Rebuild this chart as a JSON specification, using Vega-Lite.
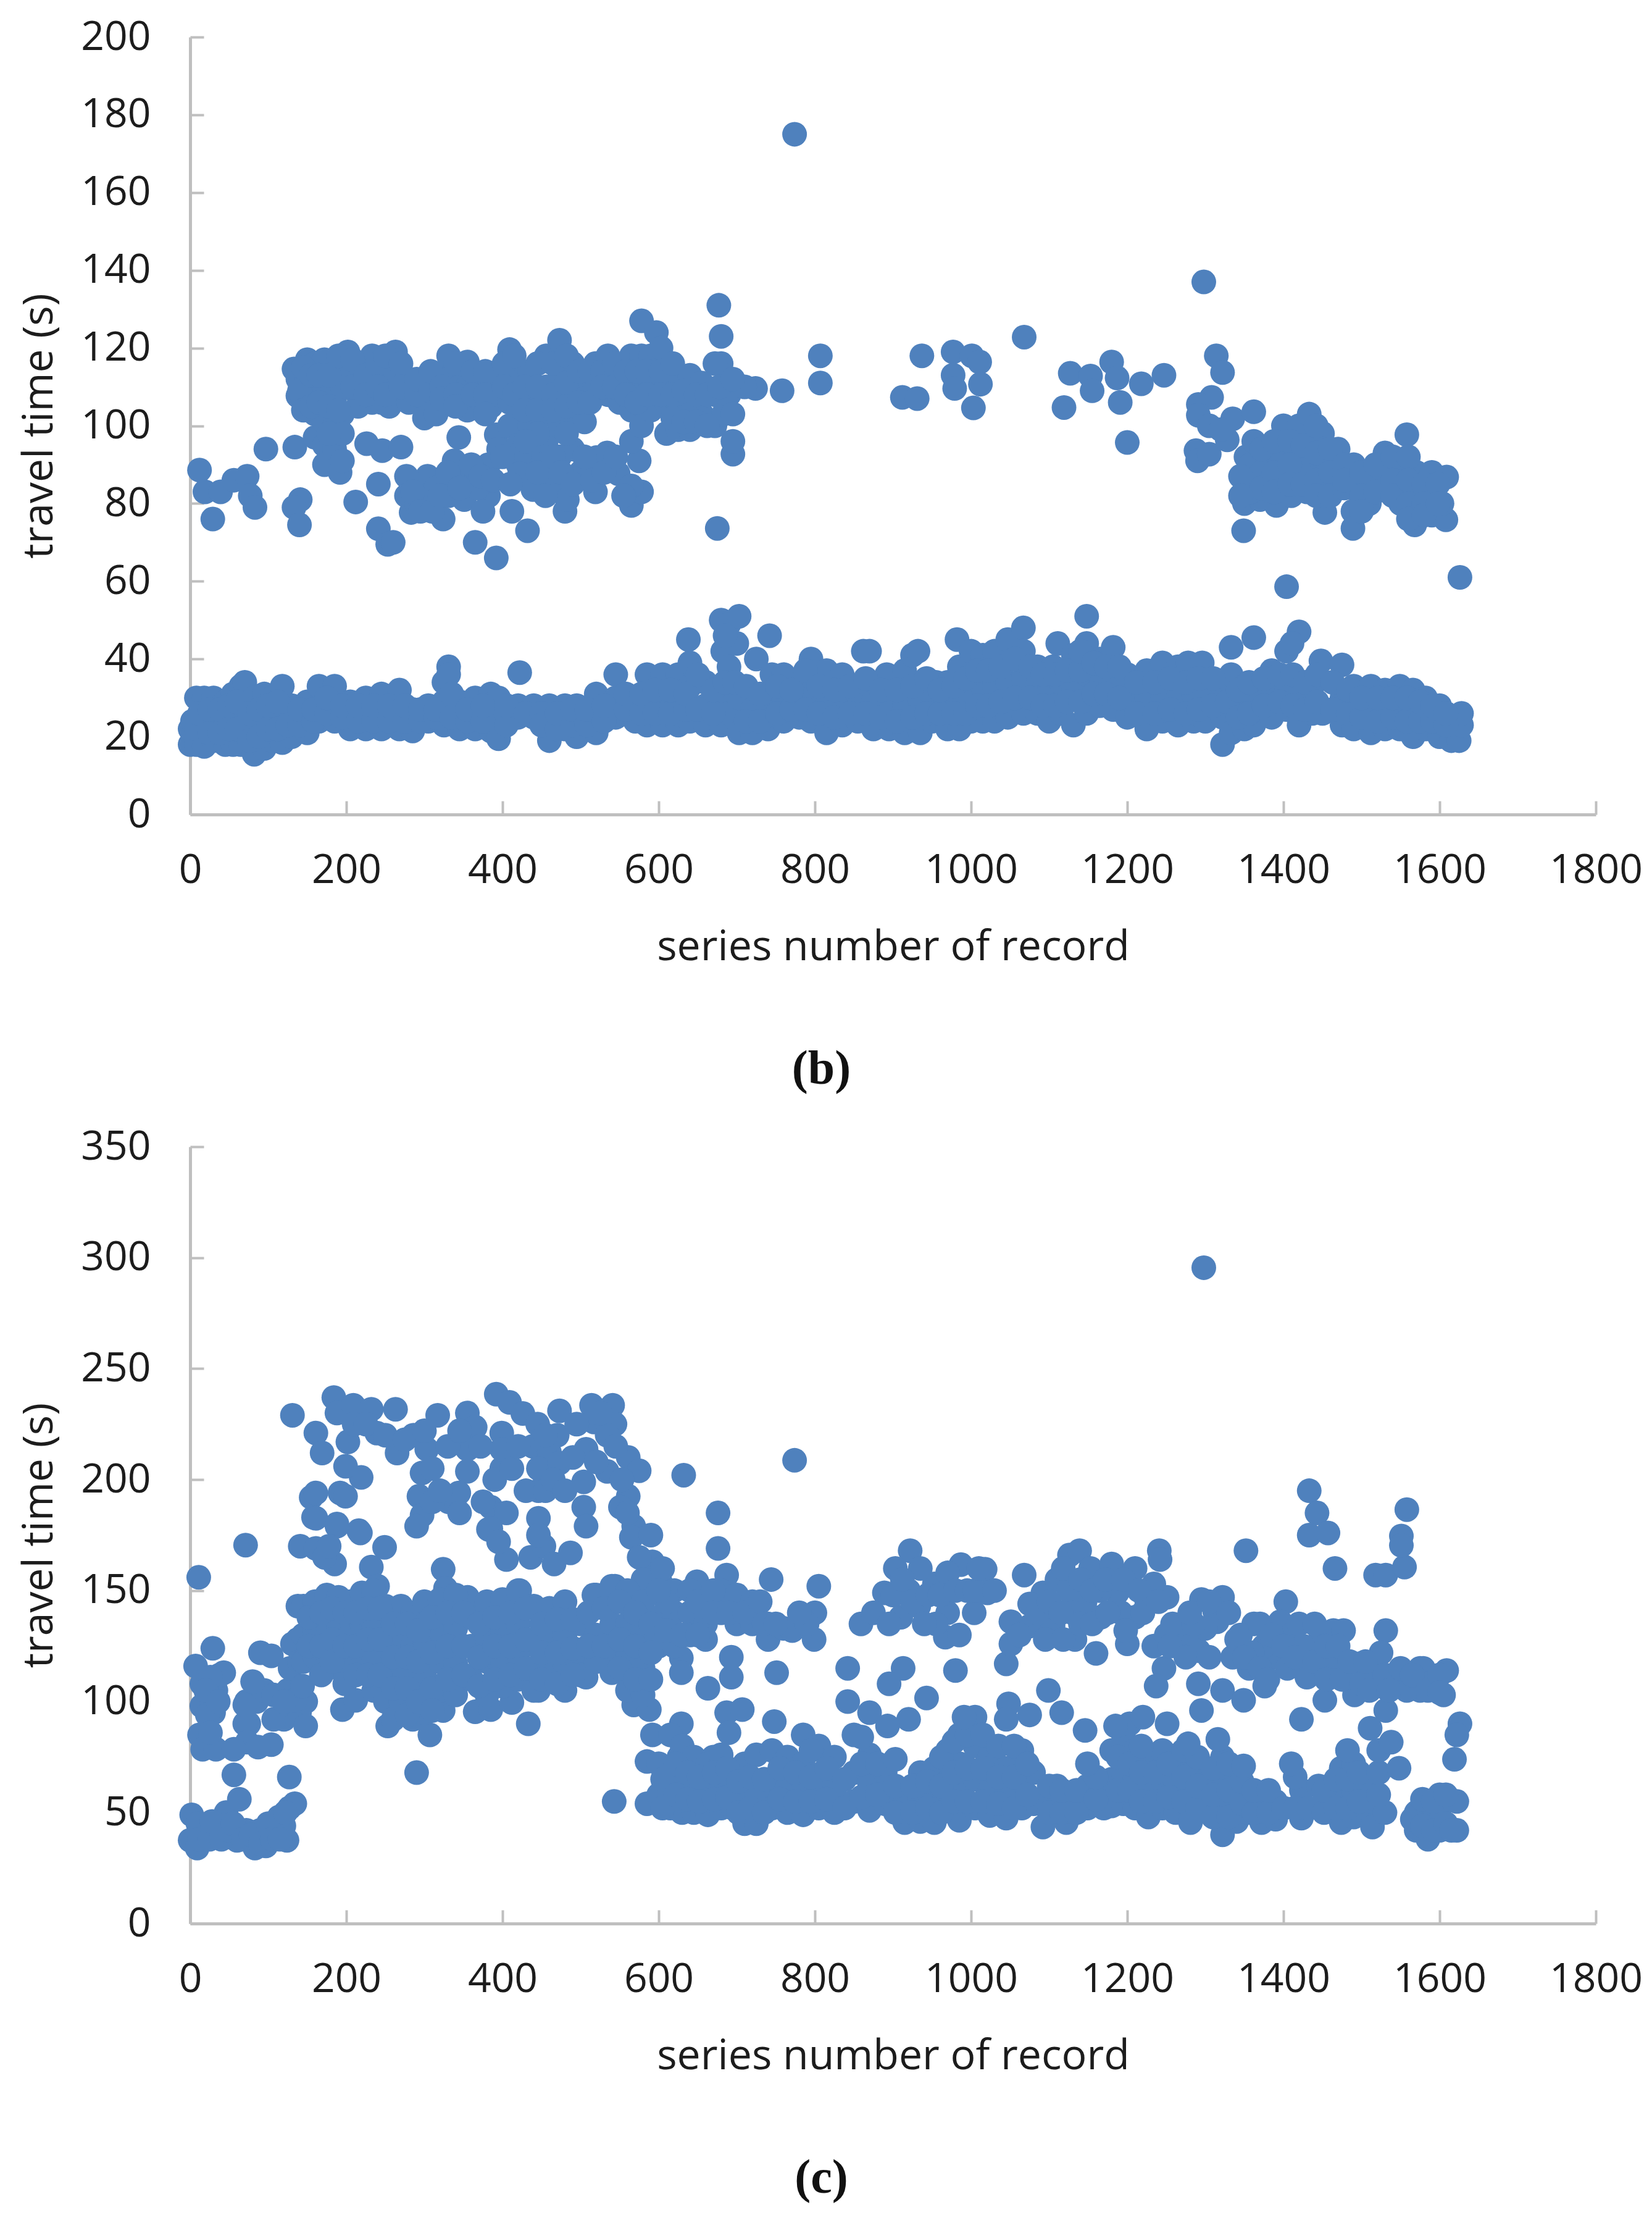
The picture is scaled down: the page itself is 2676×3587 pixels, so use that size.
{"$schema":"https://vega.github.io/schema/vega-lite/v6.json","background":"white","padding":{"left":30,"top":27,"right":0,"bottom":20},"spacing":53,
"config":{"view":{"stroke":null},"axis":{"grid":false,"domainColor":"#BFBFBF","domainWidth":5,"tickColor":"#BFBFBF","tickWidth":4,"tickSize":-22,"labelFont":"Open Sans","titleFont":"Open Sans","labelFontSize":66,"titleFontSize":68,"labelColor":"#1c1c1c","titleColor":"#1c1c1c","titleFontWeight":"normal","labelOverlap":false,"labelFlush":false},"title":{"font":"Liberation Serif","fontSize":78,"fontWeight":"bold","color":"#111111","orient":"bottom","anchor":"middle","dx":-116,"offset":125}},
"datasets":{
"b":[{"x":774,"y":175},{"x":1298,"y":137},{"x":1404,"y":58.6},{"x":1626,"y":61},
{"x":0,"y":18},{"x":0,"y":22},{"x":3,"y":24},{"x":8,"y":18},{"x":8,"y":22},{"x":8,"y":30},{"x":18,"y":17.5},{"x":18,"y":24},{"x":18,"y":30},{"x":30,"y":19},{"x":30,"y":25},{"x":30,"y":30},{"x":45,"y":18},{"x":45,"y":24},{"x":45,"y":29},{"x":55,"y":18},{"x":55,"y":25},{"x":55,"y":31},{"x":65,"y":18},{"x":65,"y":26},{"x":65,"y":33},{"x":70,"y":21},{"x":70,"y":29},{"x":70,"y":34},{"x":82,"y":15.5},{"x":82,"y":23},{"x":82,"y":30},{"x":95,"y":17},{"x":95,"y":24},{"x":95,"y":31},{"x":105,"y":19},{"x":105,"y":26},{"x":105,"y":30},{"x":118,"y":18.5},{"x":118,"y":25},{"x":118,"y":33},{"x":130,"y":20},{"x":130,"y":25},{"x":130,"y":28},{"x":150,"y":21},{"x":150,"y":26},{"x":150,"y":29},{"x":165,"y":24},{"x":165,"y":28},{"x":165,"y":33},{"x":185,"y":24},{"x":185,"y":28},{"x":185,"y":33},{"x":205,"y":22},{"x":205,"y":26},{"x":205,"y":29},{"x":225,"y":22},{"x":225,"y":26},{"x":225,"y":30},{"x":245,"y":22},{"x":245,"y":26},{"x":245,"y":31},{"x":268,"y":22},{"x":268,"y":26},{"x":268,"y":32},{"x":285,"y":21.5},{"x":285,"y":25},{"x":285,"y":27},{"x":305,"y":24},{"x":305,"y":26},{"x":305,"y":28},{"x":325,"y":23},{"x":325,"y":29},{"x":325,"y":34},{"x":331,"y":38},{"x":331,"y":36},{"x":345,"y":22},{"x":345,"y":26},{"x":345,"y":29},{"x":365,"y":22},{"x":365,"y":25},{"x":365,"y":30},{"x":385,"y":21.5},{"x":385,"y":26},{"x":385,"y":31},{"x":395,"y":19.5},{"x":395,"y":25},{"x":395,"y":30},{"x":420,"y":25},{"x":420,"y":28},{"x":422,"y":36.5},{"x":440,"y":25},{"x":440,"y":28},{"x":460,"y":19},{"x":460,"y":24},{"x":460,"y":28},{"x":480,"y":22},{"x":480,"y":25},{"x":480,"y":28},{"x":495,"y":20},{"x":495,"y":25},{"x":495,"y":28},{"x":520,"y":21},{"x":520,"y":26},{"x":520,"y":31},{"x":545,"y":25},{"x":545,"y":30},{"x":545,"y":36},{"x":570,"y":24},{"x":570,"y":28},{"x":585,"y":23},{"x":585,"y":28},{"x":585,"y":36},{"x":605,"y":23},{"x":605,"y":29},{"x":605,"y":36},{"x":625,"y":23},{"x":625,"y":28},{"x":625,"y":36},{"x":640,"y":24},{"x":640,"y":33},{"x":640,"y":39},{"x":638,"y":45},{"x":660,"y":23},{"x":660,"y":28},{"x":660,"y":34},{"x":680,"y":23},{"x":680,"y":30},{"x":682,"y":42},{"x":680,"y":50},{"x":690,"y":26},{"x":690,"y":38},{"x":690,"y":49},{"x":703,"y":21},{"x":703,"y":30},{"x":703,"y":51},{"x":700,"y":44},{"x":720,"y":21},{"x":720,"y":27},{"x":725,"y":40},{"x":740,"y":22},{"x":740,"y":28},{"x":745,"y":36},{"x":742,"y":46},{"x":760,"y":24},{"x":760,"y":30},{"x":760,"y":36},{"x":780,"y":25},{"x":780,"y":29},{"x":780,"y":34},{"x":795,"y":24},{"x":795,"y":30},{"x":795,"y":40},{"x":815,"y":21},{"x":815,"y":28},{"x":815,"y":37},{"x":835,"y":23},{"x":835,"y":28},{"x":835,"y":36},{"x":855,"y":24},{"x":855,"y":31},{"x":862,"y":42},{"x":875,"y":22},{"x":875,"y":29},{"x":870,"y":42},{"x":895,"y":22},{"x":895,"y":29},{"x":892,"y":36},{"x":915,"y":21},{"x":915,"y":28},{"x":915,"y":37},{"x":925,"y":41},{"x":935,"y":21},{"x":935,"y":29},{"x":932,"y":42},{"x":950,"y":24},{"x":950,"y":31},{"x":955,"y":34},{"x":970,"y":22},{"x":970,"y":29},{"x":970,"y":34},{"x":985,"y":22},{"x":985,"y":30},{"x":982,"y":45},{"x":985,"y":38},{"x":1000,"y":24},{"x":1000,"y":32},{"x":1000,"y":42},{"x":1015,"y":24},{"x":1015,"y":33},{"x":1015,"y":41},{"x":1030,"y":24},{"x":1030,"y":33},{"x":1030,"y":42},{"x":1047,"y":25},{"x":1047,"y":34},{"x":1047,"y":45},{"x":1067,"y":26},{"x":1067,"y":35},{"x":1067,"y":48},{"x":1067,"y":42},{"x":1085,"y":26},{"x":1085,"y":33},{"x":1085,"y":38},{"x":1100,"y":24},{"x":1100,"y":32},{"x":1105,"y":38},{"x":1111,"y":44},{"x":1115,"y":26},{"x":1115,"y":34},{"x":1131,"y":23},{"x":1131,"y":33},{"x":1131,"y":41},{"x":1148,"y":26},{"x":1148,"y":36},{"x":1148,"y":44},{"x":1148,"y":51},{"x":1165,"y":28},{"x":1165,"y":36},{"x":1165,"y":40},{"x":1182,"y":27},{"x":1182,"y":34},{"x":1182,"y":43},{"x":1200,"y":25},{"x":1200,"y":31},{"x":1200,"y":36},{"x":1225,"y":22},{"x":1225,"y":30},{"x":1225,"y":37},{"x":1245,"y":24},{"x":1245,"y":31},{"x":1245,"y":39},{"x":1265,"y":23},{"x":1265,"y":30},{"x":1265,"y":38},{"x":1278,"y":39},{"x":1285,"y":24},{"x":1285,"y":31},{"x":1296,"y":39},{"x":1300,"y":24},{"x":1300,"y":31},{"x":1322,"y":18},{"x":1322,"y":25},{"x":1322,"y":33},{"x":1333,"y":21},{"x":1333,"y":28},{"x":1333,"y":36},{"x":1333,"y":43},{"x":1350,"y":22},{"x":1350,"y":28},{"x":1350,"y":33},{"x":1362,"y":23},{"x":1362,"y":30},{"x":1362,"y":45.5},{"x":1385,"y":25},{"x":1385,"y":33},{"x":1385,"y":37},{"x":1404,"y":27},{"x":1404,"y":33},{"x":1404,"y":42},{"x":1420,"y":23},{"x":1420,"y":30},{"x":1420,"y":47},{"x":1411,"y":44},{"x":1437,"y":26},{"x":1437,"y":33},{"x":1448,"y":39.5},{"x":1450,"y":26},{"x":1475,"y":23},{"x":1475,"y":30},{"x":1475,"y":38.5},{"x":1490,"y":22},{"x":1490,"y":28},{"x":1490,"y":33},{"x":1512,"y":21},{"x":1512,"y":27},{"x":1512,"y":33},{"x":1530,"y":22},{"x":1530,"y":27},{"x":1530,"y":32},{"x":1549,"y":22},{"x":1549,"y":27},{"x":1549,"y":33},{"x":1566,"y":20},{"x":1566,"y":26},{"x":1566,"y":32},{"x":1582,"y":22},{"x":1582,"y":27},{"x":1582,"y":30},{"x":1600,"y":20},{"x":1600,"y":24},{"x":1600,"y":28},{"x":1615,"y":19},{"x":1615,"y":22},{"x":1625,"y":19},{"x":1628,"y":23},{"x":1628,"y":26},
{"x":12,"y":26},{"x":25,"y":21},{"x":25,"y":27},{"x":38,"y":21},{"x":38,"y":27},{"x":50,"y":22},{"x":50,"y":28},{"x":60,"y":22},{"x":60,"y":29},{"x":76,"y":19},{"x":76,"y":26},{"x":88,"y":20},{"x":88,"y":27},{"x":100,"y":22},{"x":100,"y":28},{"x":112,"y":22},{"x":112,"y":29},{"x":125,"y":23},{"x":140,"y":23},{"x":140,"y":27},{"x":158,"y":24},{"x":158,"y":27},{"x":175,"y":26},{"x":175,"y":30},{"x":195,"y":25},{"x":195,"y":28},{"x":215,"y":24},{"x":215,"y":28},{"x":235,"y":24},{"x":235,"y":28},{"x":255,"y":24},{"x":255,"y":28},{"x":275,"y":24},{"x":275,"y":28},{"x":295,"y":24},{"x":295,"y":27},{"x":315,"y":25},{"x":315,"y":27},{"x":335,"y":25},{"x":335,"y":31},{"x":355,"y":24},{"x":355,"y":27},{"x":375,"y":24},{"x":375,"y":28},{"x":405,"y":23},{"x":405,"y":28},{"x":430,"y":26},{"x":450,"y":26},{"x":450,"y":23},{"x":470,"y":22},{"x":470,"y":26},{"x":490,"y":23},{"x":490,"y":27},{"x":508,"y":23},{"x":508,"y":27},{"x":530,"y":24},{"x":530,"y":28},{"x":558,"y":27},{"x":558,"y":31},{"x":578,"y":26},{"x":578,"y":31},{"x":595,"y":26},{"x":595,"y":32},{"x":615,"y":26},{"x":615,"y":32},{"x":635,"y":27},{"x":635,"y":31},{"x":650,"y":27},{"x":650,"y":36},{"x":670,"y":26},{"x":670,"y":32},{"x":685,"y":34},{"x":685,"y":46},{"x":697,"y":34},{"x":712,"y":24},{"x":712,"y":33},{"x":730,"y":24},{"x":730,"y":31},{"x":752,"y":26},{"x":752,"y":33},{"x":770,"y":27},{"x":770,"y":32},{"x":788,"y":27},{"x":788,"y":37},{"x":805,"y":26},{"x":805,"y":33},{"x":825,"y":25},{"x":825,"y":32},{"x":845,"y":26},{"x":845,"y":33},{"x":865,"y":26},{"x":865,"y":35},{"x":885,"y":25},{"x":885,"y":32},{"x":905,"y":24},{"x":905,"y":32},{"x":925,"y":25},{"x":925,"y":33},{"x":943,"y":26},{"x":943,"y":35},{"x":960,"y":26},{"x":960,"y":32},{"x":978,"y":26},{"x":978,"y":33},{"x":993,"y":26},{"x":993,"y":35},{"x":1008,"y":28},{"x":1008,"y":37},{"x":1022,"y":28},{"x":1022,"y":37},{"x":1038,"y":29},{"x":1038,"y":38},{"x":1056,"y":30},{"x":1056,"y":40},{"x":1076,"y":30},{"x":1076,"y":38},{"x":1092,"y":28},{"x":1092,"y":36},{"x":1108,"y":28},{"x":1108,"y":36},{"x":1123,"y":29},{"x":1123,"y":37},{"x":1140,"y":29},{"x":1140,"y":37},{"x":1140,"y":42},{"x":1157,"y":31},{"x":1157,"y":39},{"x":1173,"y":31},{"x":1173,"y":38},{"x":1190,"y":30},{"x":1190,"y":38},{"x":1212,"y":26},{"x":1212,"y":34},{"x":1235,"y":26},{"x":1235,"y":34},{"x":1255,"y":27},{"x":1255,"y":35},{"x":1275,"y":26},{"x":1275,"y":34},{"x":1292,"y":27},{"x":1292,"y":35},{"x":1310,"y":28},{"x":1310,"y":35},{"x":1328,"y":29},{"x":1342,"y":25},{"x":1342,"y":32},{"x":1356,"y":26},{"x":1356,"y":34},{"x":1375,"y":28},{"x":1375,"y":35},{"x":1395,"y":29},{"x":1395,"y":36},{"x":1412,"y":28},{"x":1412,"y":36},{"x":1428,"y":27},{"x":1428,"y":34},{"x":1443,"y":29},{"x":1443,"y":36},{"x":1463,"y":27},{"x":1463,"y":34},{"x":1483,"y":26},{"x":1483,"y":32},{"x":1500,"y":25},{"x":1500,"y":30},{"x":1521,"y":24},{"x":1521,"y":30},{"x":1540,"y":25},{"x":1540,"y":30},{"x":1558,"y":24},{"x":1558,"y":30},{"x":1575,"y":24},{"x":1575,"y":29},{"x":1591,"y":24},{"x":1591,"y":28},{"x":1608,"y":23},{"x":1608,"y":26},
{"x":12,"y":88.6},{"x":19,"y":83},{"x":39,"y":83},{"x":29,"y":76},{"x":56,"y":86},{"x":73,"y":87},{"x":77,"y":82},{"x":83,"y":79},{"x":97,"y":94},{"x":134,"y":94.5},{"x":141,"y":81},{"x":133,"y":79},{"x":140,"y":74.5},{"x":212,"y":80.4},{"x":241,"y":85},{"x":241,"y":73.5},{"x":253,"y":69.5},{"x":260,"y":70},{"x":365,"y":70},{"x":392,"y":66},{"x":432,"y":73},{"x":412,"y":78},{"x":480,"y":78},{"x":519,"y":83},{"x":565,"y":79.5},{"x":578,"y":83},{"x":575,"y":91},{"x":675,"y":73.6},{"x":695,"y":92.7},{"x":695,"y":96},{"x":677,"y":131},{"x":680,"y":123},{"x":680,"y":116},{"x":724,"y":109.6},{"x":758,"y":109},{"x":807,"y":118},{"x":807,"y":111},
{"x":133,"y":114.6},{"x":138,"y":107.7},{"x":138,"y":112},{"x":150,"y":112},{"x":150,"y":117},{"x":150,"y":107},{"x":160,"y":116},{"x":160,"y":110},{"x":160,"y":103},{"x":160,"y":97},{"x":172,"y":117},{"x":172,"y":110},{"x":172,"y":101},{"x":172,"y":95},{"x":172,"y":90},{"x":185,"y":113},{"x":185,"y":107},{"x":185,"y":100},{"x":185,"y":94},{"x":192,"y":88},{"x":195,"y":116},{"x":195,"y":110},{"x":195,"y":103},{"x":195,"y":98},{"x":195,"y":91},{"x":202,"y":119},{"x":202,"y":113},{"x":215,"y":116},{"x":215,"y":108},{"x":215,"y":105},{"x":233,"y":118},{"x":233,"y":112},{"x":233,"y":106},{"x":245,"y":114},{"x":245,"y":106},{"x":255,"y":116},{"x":255,"y":110},{"x":255,"y":105},{"x":263,"y":119},{"x":263,"y":114},{"x":280,"y":110},{"x":280,"y":106},{"x":300,"y":112},{"x":300,"y":107},{"x":300,"y":102},{"x":315,"y":113},{"x":315,"y":103},{"x":331,"y":118},{"x":331,"y":112},{"x":331,"y":106},{"x":345,"y":112},{"x":345,"y":110},{"x":355,"y":116.4},{"x":355,"y":110},{"x":355,"y":104},{"x":370,"y":112},{"x":370,"y":107},{"x":385,"y":110},{"x":385,"y":105},{"x":395,"y":114},{"x":395,"y":108},{"x":392,"y":97.7},{"x":395,"y":94},{"x":409,"y":119.6},{"x":409,"y":112},{"x":409,"y":106},{"x":409,"y":100},{"x":420,"y":113},{"x":420,"y":105},{"x":420,"y":95},{"x":420,"y":90},{"x":435,"y":114},{"x":435,"y":107},{"x":435,"y":100},{"x":435,"y":92},{"x":435,"y":86},{"x":456,"y":118},{"x":456,"y":110},{"x":456,"y":103},{"x":456,"y":96},{"x":473,"y":122},{"x":473,"y":114},{"x":473,"y":107},{"x":473,"y":100},{"x":473,"y":92},{"x":473,"y":85},{"x":490,"y":116},{"x":490,"y":108},{"x":490,"y":102},{"x":490,"y":94},{"x":505,"y":112},{"x":505,"y":107},{"x":505,"y":101},{"x":519,"y":116},{"x":519,"y":110},{"x":535,"y":118},{"x":535,"y":112},{"x":535,"y":108},{"x":550,"y":112},{"x":550,"y":106},{"x":565,"y":118},{"x":565,"y":110},{"x":565,"y":104},{"x":565,"y":96},{"x":578,"y":127},{"x":578,"y":118},{"x":578,"y":110},{"x":578,"y":100},{"x":590,"y":118},{"x":590,"y":110},{"x":590,"y":104},{"x":597,"y":124},{"x":597,"y":116},{"x":610,"y":112},{"x":610,"y":106},{"x":610,"y":98},{"x":625,"y":113},{"x":625,"y":105},{"x":625,"y":99},{"x":640,"y":113},{"x":640,"y":103},{"x":640,"y":99},{"x":655,"y":111},{"x":655,"y":103},{"x":672,"y":116},{"x":672,"y":108},{"x":672,"y":100},{"x":683,"y":103},{"x":690,"y":108},{"x":710,"y":110},
{"x":140,"y":109},{"x":145,"y":115},{"x":145,"y":104},{"x":155,"y":105},{"x":155,"y":113},{"x":165,"y":113},{"x":165,"y":106},{"x":178,"y":113},{"x":178,"y":105},{"x":178,"y":98},{"x":190,"y":118},{"x":190,"y":104},{"x":208,"y":110},{"x":208,"y":117},{"x":225,"y":113},{"x":225,"y":108},{"x":240,"y":116},{"x":240,"y":110},{"x":250,"y":118},{"x":250,"y":108},{"x":270,"y":116},{"x":270,"y":110},{"x":290,"y":108},{"x":290,"y":112},{"x":308,"y":109},{"x":308,"y":114},{"x":322,"y":110},{"x":322,"y":107},{"x":340,"y":116},{"x":340,"y":108},{"x":340,"y":105},{"x":362,"y":114},{"x":362,"y":108},{"x":378,"y":114},{"x":378,"y":108},{"x":378,"y":103},{"x":402,"y":116},{"x":402,"y":110},{"x":415,"y":118},{"x":415,"y":108},{"x":428,"y":110},{"x":428,"y":104},{"x":445,"y":116},{"x":445,"y":110},{"x":445,"y":104},{"x":445,"y":98},{"x":465,"y":116},{"x":465,"y":108},{"x":465,"y":104},{"x":482,"y":118},{"x":482,"y":111},{"x":482,"y":105},{"x":482,"y":98},{"x":498,"y":114},{"x":498,"y":106},{"x":512,"y":114},{"x":512,"y":106},{"x":528,"y":114},{"x":528,"y":110},{"x":543,"y":116},{"x":543,"y":110},{"x":558,"y":114},{"x":558,"y":108},{"x":572,"y":114},{"x":572,"y":106},{"x":585,"y":114},{"x":585,"y":108},{"x":603,"y":120},{"x":603,"y":114},{"x":603,"y":108},{"x":618,"y":116},{"x":618,"y":108},{"x":618,"y":102},{"x":632,"y":109},{"x":632,"y":101},{"x":648,"y":108},{"x":648,"y":101},{"x":662,"y":108},{"x":662,"y":100},{"x":678,"y":110},{"x":695,"y":103},{"x":695,"y":112},
{"x":226,"y":95.4},{"x":246,"y":93.6},{"x":270,"y":94.5},{"x":304,"y":87},{"x":277,"y":87},{"x":277,"y":82},{"x":283,"y":77.7},{"x":304,"y":82},{"x":324,"y":76},{"x":338,"y":91},{"x":351,"y":87},{"x":351,"y":81},{"x":382,"y":90},{"x":382,"y":82},{"x":331,"y":82},{"x":344,"y":97},{"x":422,"y":92.7},{"x":422,"y":87.7},{"x":439,"y":83.6},{"x":466,"y":85.4},{"x":483,"y":81},{"x":500,"y":88},{"x":520,"y":91.8},{"x":534,"y":93},{"x":548,"y":87.7},{"x":565,"y":84.5},{"x":290,"y":80},{"x":315,"y":84},{"x":368,"y":84},{"x":450,"y":90},
{"x":285,"y":83},{"x":295,"y":78},{"x":310,"y":78},{"x":320,"y":82},{"x":330,"y":88},{"x":345,"y":84},{"x":360,"y":90},{"x":372,"y":87},{"x":375,"y":78},{"x":388,"y":86},{"x":400,"y":92},{"x":410,"y":85},{"x":430,"y":96},{"x":445,"y":88},{"x":455,"y":82},{"x":465,"y":92},{"x":475,"y":88},{"x":490,"y":85},{"x":505,"y":92},{"x":515,"y":86},{"x":530,"y":88},{"x":545,"y":92},{"x":555,"y":82},
{"x":937,"y":118},{"x":977,"y":119},{"x":1001,"y":118},{"x":1011,"y":116.4},{"x":977,"y":113},{"x":979,"y":109.6},{"x":1012,"y":110.7},{"x":1003,"y":104.6},{"x":912,"y":107.3},{"x":931,"y":107},{"x":1068,"y":122.8},{"x":1127,"y":113.5},{"x":1153,"y":112.8},{"x":1180,"y":116.4},{"x":1187,"y":112.3},{"x":1155,"y":109},{"x":1218,"y":110.8},{"x":1247,"y":113},{"x":1119,"y":104.7},{"x":1191,"y":106},{"x":1200,"y":95.7},{"x":1314,"y":118},{"x":1322,"y":113.7},{"x":1308,"y":107.3},{"x":1291,"y":105.5},{"x":1291,"y":102.7},{"x":1288,"y":93.6},{"x":1290,"y":91},{"x":1305,"y":92.7},{"x":1328,"y":96.4},{"x":1335,"y":101.8},{"x":1362,"y":103.6},{"x":1349,"y":73},{"x":1305,"y":100},{"x":1320,"y":99},
{"x":1350,"y":80},{"x":1350,"y":86},{"x":1352,"y":92},{"x":1362,"y":96},{"x":1365,"y":88},{"x":1370,"y":81},{"x":1380,"y":92},{"x":1382,"y":85},{"x":1391,"y":79.5},{"x":1400,"y":100},{"x":1399,"y":93},{"x":1400,"y":86},{"x":1410,"y":82},{"x":1420,"y":100},{"x":1418,"y":92},{"x":1420,"y":86},{"x":1433,"y":103},{"x":1433,"y":96},{"x":1430,"y":89},{"x":1430,"y":83},{"x":1450,"y":98},{"x":1450,"y":90},{"x":1453,"y":84},{"x":1453,"y":77.7},{"x":1470,"y":94},{"x":1470,"y":88},{"x":1470,"y":84},{"x":1490,"y":90},{"x":1490,"y":84},{"x":1489,"y":78},{"x":1489,"y":73.6},{"x":1510,"y":85},{"x":1510,"y":80},{"x":1530,"y":93},{"x":1530,"y":87},{"x":1530,"y":84},{"x":1550,"y":90},{"x":1550,"y":85},{"x":1550,"y":80},{"x":1558,"y":97.7},{"x":1570,"y":88},{"x":1570,"y":82},{"x":1568,"y":74.5},{"x":1590,"y":88},{"x":1590,"y":82},{"x":1590,"y":77},{"x":1609,"y":86.8},{"x":1608,"y":75.8},{"x":1603,"y":80},{"x":1520,"y":86},
{"x":1358,"y":83},{"x":1358,"y":90},{"x":1372,"y":88},{"x":1372,"y":94},{"x":1372,"y":84},{"x":1388,"y":88},{"x":1388,"y":96},{"x":1388,"y":83},{"x":1408,"y":96},{"x":1408,"y":90},{"x":1408,"y":85},{"x":1425,"y":95},{"x":1425,"y":85},{"x":1442,"y":100},{"x":1442,"y":93},{"x":1442,"y":86},{"x":1442,"y":82},{"x":1460,"y":94},{"x":1460,"y":88},{"x":1460,"y":82},{"x":1478,"y":90},{"x":1478,"y":84},{"x":1478,"y":86},{"x":1500,"y":88},{"x":1500,"y":82},{"x":1500,"y":78},{"x":1518,"y":83},{"x":1518,"y":90},{"x":1540,"y":92},{"x":1540,"y":86},{"x":1540,"y":82},{"x":1560,"y":92},{"x":1560,"y":86},{"x":1560,"y":80},{"x":1560,"y":76},{"x":1580,"y":85},{"x":1580,"y":80},{"x":1580,"y":77},{"x":1598,"y":85},{"x":1598,"y":80},{"x":1345,"y":87},{"x":1345,"y":82}],
"c":[{"x":1298,"y":295.5},
{"x":11,"y":156},{"x":71,"y":170.5},{"x":29,"y":124},{"x":7,"y":116},{"x":90,"y":122},{"x":104,"y":120.6},{"x":2,"y":49},{"x":0,"y":37.5},{"x":9,"y":34},{"x":33,"y":41.7},{"x":46,"y":50},{"x":60,"y":37.5},{"x":83,"y":34},{"x":97,"y":35},{"x":114,"y":48},{"x":127,"y":52},{"x":127,"y":66},{"x":124,"y":37.5},{"x":56,"y":67},{"x":63,"y":56},{"x":134,"y":54},{"x":16,"y":42},{"x":20,"y":40},{"x":72,"y":42},{"x":110,"y":40},{"x":120,"y":44},{"x":90,"y":42},
{"x":10,"y":45},{"x":12,"y":38},{"x":25,"y":38},{"x":28,"y":46},{"x":40,"y":38},{"x":50,"y":42},{"x":55,"y":45},{"x":68,"y":38},{"x":78,"y":40},{"x":90,"y":36},{"x":100,"y":45},{"x":105,"y":38},{"x":115,"y":38},{"x":122,"y":50},{"x":12,"y":85},{"x":15,"y":98},{"x":30,"y":95},{"x":33,"y":105},{"x":15,"y":108},{"x":38,"y":112},{"x":72,"y":100},{"x":75,"y":90},{"x":85,"y":100},{"x":95,"y":105},{"x":120,"y":92},{"x":125,"y":105},{"x":140,"y":95},{"x":148,"y":100},{"x":128,"y":115},{"x":138,"y":128},
{"x":16,"y":78.5},{"x":33,"y":78.5},{"x":22,"y":94},{"x":26,"y":86},{"x":43,"y":113},{"x":26,"y":111},{"x":70,"y":90},{"x":73,"y":81.7},{"x":104,"y":80.6},{"x":80,"y":109},{"x":70,"y":98.5},{"x":107,"y":103},{"x":107,"y":92},{"x":134,"y":100.6},{"x":148,"y":89},{"x":144,"y":107},{"x":131,"y":126},{"x":56,"y":78.5},{"x":87,"y":79.5},{"x":20,"y":105},{"x":36,"y":100},{"x":120,"y":100},{"x":140,"y":118},
{"x":138,"y":143},{"x":141,"y":170},{"x":161,"y":169},{"x":185,"y":162},{"x":232,"y":160.6},{"x":249,"y":169.5},{"x":216,"y":177},{"x":188,"y":180},{"x":158,"y":183},{"x":155,"y":192},{"x":172,"y":165},{"x":240,"y":152},{"x":195,"y":96.4},{"x":212,"y":100.6},{"x":253,"y":89},{"x":307,"y":85},{"x":290,"y":68},{"x":365,"y":95.4},{"x":385,"y":96.4},{"x":433,"y":90},{"x":412,"y":99.6},{"x":324,"y":96},{"x":446,"y":105},{"x":480,"y":105},{"x":507,"y":111},{"x":568,"y":98.5},{"x":588,"y":96.4},{"x":543,"y":55},{"x":585,"y":54},{"x":592,"y":85},{"x":585,"y":73},{"x":629,"y":90},{"x":626,"y":75},{"x":324,"y":159.6},{"x":327,"y":151},{"x":355,"y":147},{"x":422,"y":150},{"x":517,"y":148},{"x":544,"y":152},{"x":592,"y":163},{"x":602,"y":154},{"x":649,"y":154},{"x":676,"y":169},{"x":687,"y":157},{"x":744,"y":155},{"x":805,"y":152},{"x":676,"y":185},{"x":632,"y":202},{"x":629,"y":119.6},{"x":629,"y":113},{"x":693,"y":120},{"x":693,"y":111},{"x":663,"y":106},{"x":751,"y":113},{"x":687,"y":95},{"x":707,"y":96.4},{"x":690,"y":86},{"x":748,"y":91},{"x":670,"y":75},
{"x":131,"y":229},{"x":184,"y":237},{"x":188,"y":230},{"x":209,"y":233.5},{"x":232,"y":231.7},{"x":263,"y":231.7},{"x":239,"y":221},{"x":161,"y":221},{"x":169,"y":212},{"x":202,"y":217},{"x":265,"y":212},{"x":286,"y":220},{"x":303,"y":213.7},{"x":317,"y":229},{"x":355,"y":230},{"x":365,"y":223.6},{"x":355,"y":213.7},{"x":392,"y":238.5},{"x":409,"y":234.8},{"x":426,"y":229.8},{"x":399,"y":221},{"x":399,"y":205},{"x":399,"y":213.7},{"x":439,"y":215},{"x":473,"y":231},{"x":470,"y":220},{"x":460,"y":212.4},{"x":514,"y":233.5},{"x":541,"y":233.5},{"x":517,"y":226},{"x":544,"y":225},{"x":534,"y":220},{"x":507,"y":213.7},{"x":297,"y":203},{"x":355,"y":203.7},{"x":219,"y":201},{"x":199,"y":206},{"x":561,"y":210},{"x":575,"y":204},{"x":774,"y":208.7},{"x":534,"y":203.7},{"x":446,"y":205},{"x":473,"y":207.5},{"x":504,"y":199},{"x":161,"y":194},{"x":192,"y":194},{"x":199,"y":192.5},{"x":161,"y":182.6},{"x":188,"y":179},{"x":218,"y":176},{"x":293,"y":192.5},{"x":297,"y":184},{"x":290,"y":179},{"x":331,"y":190},{"x":344,"y":194},{"x":385,"y":187.6},{"x":405,"y":185},{"x":382,"y":177.6},{"x":446,"y":195},{"x":446,"y":182.6},{"x":504,"y":187.6},{"x":507,"y":179},{"x":561,"y":192.5},{"x":551,"y":187.6},{"x":568,"y":179},{"x":405,"y":164},{"x":436,"y":165},{"x":453,"y":170},{"x":466,"y":162},{"x":487,"y":167},{"x":565,"y":174},{"x":446,"y":175},
{"x":178,"y":170},{"x":210,"y":225},{"x":225,"y":225},{"x":250,"y":220},{"x":275,"y":218},{"x":300,"y":222},{"x":310,"y":190},{"x":320,"y":195},{"x":330,"y":215},{"x":345,"y":222},{"x":372,"y":215},{"x":375,"y":190},{"x":390,"y":200},{"x":412,"y":205},{"x":420,"y":215},{"x":430,"y":195},{"x":445,"y":225},{"x":455,"y":195},{"x":455,"y":220},{"x":465,"y":200},{"x":480,"y":195},{"x":490,"y":210},{"x":495,"y":225},{"x":520,"y":208},{"x":525,"y":230},{"x":545,"y":215},{"x":553,"y":200},{"x":560,"y":185},{"x":575,"y":165},{"x":580,"y":155},{"x":590,"y":175},{"x":605,"y":160},{"x":385,"y":178},{"x":395,"y":172},{"x":345,"y":185},{"x":310,"y":205},
{"x":145,"y":143},{"x":145,"y":130},{"x":145,"y":118},{"x":160,"y":145},{"x":160,"y":132},{"x":160,"y":120},{"x":175,"y":148},{"x":175,"y":135},{"x":175,"y":122},{"x":190,"y":147},{"x":190,"y":133},{"x":190,"y":115},{"x":205,"y":145},{"x":205,"y":130},{"x":205,"y":118},{"x":220,"y":149},{"x":220,"y":135},{"x":220,"y":122},{"x":235,"y":150},{"x":235,"y":135},{"x":235,"y":120},{"x":235,"y":105},{"x":250,"y":143},{"x":250,"y":128},{"x":250,"y":112},{"x":250,"y":100},{"x":270,"y":143},{"x":270,"y":128},{"x":270,"y":113},{"x":270,"y":100},{"x":285,"y":140},{"x":285,"y":125},{"x":285,"y":108},{"x":285,"y":92},{"x":300,"y":145},{"x":300,"y":128},{"x":300,"y":112},{"x":300,"y":95},{"x":320,"y":146},{"x":320,"y":132},{"x":320,"y":118},{"x":320,"y":105},{"x":340,"y":148},{"x":340,"y":133},{"x":340,"y":117},{"x":340,"y":103},{"x":360,"y":138},{"x":360,"y":125},{"x":360,"y":110},{"x":380,"y":145},{"x":380,"y":130},{"x":380,"y":118},{"x":380,"y":103},{"x":400,"y":146},{"x":400,"y":132},{"x":400,"y":118},{"x":400,"y":107},{"x":420,"y":150},{"x":420,"y":135},{"x":420,"y":122},{"x":420,"y":110},{"x":440,"y":143},{"x":440,"y":128},{"x":440,"y":115},{"x":440,"y":105},{"x":460,"y":142},{"x":460,"y":128},{"x":460,"y":113},{"x":480,"y":145},{"x":480,"y":130},{"x":480,"y":117},{"x":500,"y":135},{"x":500,"y":122},{"x":500,"y":112},{"x":520,"y":148},{"x":520,"y":130},{"x":520,"y":118},{"x":540,"y":152},{"x":540,"y":135},{"x":540,"y":122},{"x":540,"y":113},{"x":560,"y":150},{"x":560,"y":135},{"x":560,"y":120},{"x":560,"y":105},{"x":580,"y":145},{"x":580,"y":130},{"x":580,"y":115},{"x":580,"y":103},{"x":600,"y":138},{"x":600,"y":125},{"x":620,"y":140},{"x":620,"y":150},{"x":620,"y":125},{"x":640,"y":150},{"x":640,"y":140},{"x":640,"y":130},{"x":660,"y":145},{"x":660,"y":135},{"x":660,"y":128},{"x":680,"y":150},{"x":680,"y":140},{"x":700,"y":148},{"x":700,"y":135},{"x":720,"y":145},{"x":720,"y":135},{"x":740,"y":135},{"x":740,"y":128},{"x":760,"y":133},{"x":771,"y":132},{"x":799,"y":128},{"x":800,"y":140},
{"x":152,"y":125},{"x":152,"y":138},{"x":168,"y":125},{"x":168,"y":140},{"x":168,"y":112},{"x":182,"y":128},{"x":182,"y":142},{"x":182,"y":118},{"x":198,"y":125},{"x":198,"y":140},{"x":198,"y":108},{"x":212,"y":125},{"x":212,"y":140},{"x":212,"y":112},{"x":228,"y":128},{"x":228,"y":142},{"x":228,"y":112},{"x":243,"y":128},{"x":243,"y":112},{"x":243,"y":142},{"x":260,"y":120},{"x":260,"y":135},{"x":260,"y":106},{"x":260,"y":92},{"x":278,"y":120},{"x":278,"y":135},{"x":278,"y":106},{"x":278,"y":94},{"x":292,"y":118},{"x":292,"y":132},{"x":292,"y":100},{"x":310,"y":122},{"x":310,"y":138},{"x":310,"y":106},{"x":310,"y":96},{"x":330,"y":125},{"x":330,"y":140},{"x":330,"y":110},{"x":350,"y":125},{"x":350,"y":140},{"x":350,"y":112},{"x":370,"y":120},{"x":370,"y":135},{"x":370,"y":107},{"x":390,"y":125},{"x":390,"y":138},{"x":390,"y":110},{"x":410,"y":125},{"x":410,"y":140},{"x":410,"y":112},{"x":430,"y":128},{"x":430,"y":142},{"x":430,"y":115},{"x":450,"y":122},{"x":450,"y":135},{"x":450,"y":110},{"x":470,"y":122},{"x":470,"y":137},{"x":470,"y":108},{"x":490,"y":124},{"x":490,"y":137},{"x":490,"y":112},{"x":510,"y":125},{"x":510,"y":140},{"x":530,"y":125},{"x":530,"y":142},{"x":550,"y":128},{"x":550,"y":145},{"x":550,"y":115},{"x":570,"y":125},{"x":570,"y":140},{"x":570,"y":110},{"x":590,"y":135},{"x":590,"y":122},{"x":590,"y":110},
{"x":610,"y":145},{"x":610,"y":132},{"x":630,"y":130},{"x":650,"y":130},{"x":650,"y":145},{"x":670,"y":150},{"x":670,"y":140},{"x":690,"y":140},{"x":710,"y":140},{"x":730,"y":145},{"x":735,"y":135},{"x":750,"y":135},{"x":790,"y":135},{"x":780,"y":140},{"x":600,"y":150},
{"x":600,"y":72},{"x":600,"y":58},{"x":615,"y":52},{"x":615,"y":65},{"x":615,"y":85},{"x":630,"y":50},{"x":630,"y":62},{"x":630,"y":80},{"x":645,"y":50},{"x":645,"y":60},{"x":645,"y":75},{"x":663,"y":49},{"x":663,"y":60},{"x":663,"y":72},{"x":680,"y":52},{"x":680,"y":62},{"x":680,"y":76},{"x":695,"y":52},{"x":695,"y":62},{"x":710,"y":45},{"x":710,"y":56},{"x":710,"y":72},{"x":725,"y":45},{"x":725,"y":58},{"x":725,"y":76},{"x":745,"y":52},{"x":745,"y":62},{"x":745,"y":78},{"x":765,"y":50},{"x":765,"y":62},{"x":765,"y":75},{"x":785,"y":49},{"x":785,"y":60},{"x":785,"y":72},{"x":785,"y":85},{"x":805,"y":52},{"x":805,"y":65},{"x":805,"y":80},{"x":825,"y":50},{"x":825,"y":60},{"x":825,"y":75},{"x":850,"y":55},{"x":850,"y":68},{"x":850,"y":85},{"x":870,"y":51},{"x":870,"y":63},{"x":870,"y":76},{"x":870,"y":95},{"x":890,"y":54},{"x":890,"y":68},{"x":915,"y":45.5},{"x":915,"y":58},{"x":935,"y":46},{"x":935,"y":56},{"x":935,"y":68},{"x":953,"y":45.5},{"x":953,"y":58},{"x":953,"y":70},{"x":970,"y":52},{"x":970,"y":64},{"x":970,"y":78},{"x":985,"y":46.5},{"x":985,"y":60},{"x":985,"y":72},{"x":985,"y":85},{"x":1005,"y":52},{"x":1005,"y":65},{"x":1005,"y":80},{"x":1005,"y":93},{"x":1024,"y":48.7},{"x":1024,"y":60},{"x":1024,"y":75},{"x":1045,"y":47.5},{"x":1045,"y":58},{"x":1045,"y":70},{"x":1065,"y":52},{"x":1065,"y":64},{"x":1065,"y":78},{"x":1080,"y":54},{"x":1080,"y":68},{"x":1092,"y":43.5},{"x":1092,"y":56},{"x":1110,"y":52},{"x":1110,"y":62},{"x":1122,"y":45.5},{"x":1122,"y":55},{"x":1149,"y":52},{"x":1149,"y":62},{"x":1170,"y":52},{"x":1170,"y":62},{"x":1180,"y":53},{"x":1180,"y":65},{"x":1180,"y":78},{"x":1195,"y":54},{"x":1195,"y":68},{"x":1195,"y":85},{"x":1210,"y":52},{"x":1210,"y":65},{"x":1210,"y":78},{"x":1227,"y":48},{"x":1227,"y":60},{"x":1227,"y":72},{"x":1245,"y":52},{"x":1245,"y":65},{"x":1245,"y":78},{"x":1262,"y":50},{"x":1262,"y":62},{"x":1262,"y":72},{"x":1281,"y":45.5},{"x":1281,"y":56},{"x":1281,"y":70},{"x":1300,"y":52},{"x":1300,"y":64},{"x":1322,"y":40},{"x":1322,"y":52},{"x":1322,"y":62},{"x":1322,"y":75},{"x":1340,"y":46},{"x":1340,"y":58},{"x":1340,"y":68},{"x":1355,"y":50},{"x":1372,"y":45.5},{"x":1372,"y":55},{"x":1390,"y":47},{"x":1390,"y":55},{"x":1423,"y":47.5},{"x":1423,"y":60},{"x":1445,"y":52},{"x":1445,"y":62},{"x":1460,"y":54},{"x":1474,"y":45.5},{"x":1474,"y":58},{"x":1474,"y":70},{"x":1490,"y":48},{"x":1490,"y":60},{"x":1490,"y":72},{"x":1505,"y":52},{"x":1505,"y":65},{"x":1514,"y":43.5},{"x":1514,"y":55},{"x":1530,"y":50},{"x":1570,"y":42},{"x":1570,"y":50},{"x":1585,"y":38},{"x":1585,"y":48},{"x":1600,"y":42},{"x":1600,"y":52},{"x":1600,"y":58},{"x":1622,"y":42},{"x":1622,"y":55},
{"x":605,"y":65},{"x":605,"y":52},{"x":622,"y":58},{"x":622,"y":72},{"x":637,"y":56},{"x":637,"y":68},{"x":652,"y":55},{"x":652,"y":66},{"x":671,"y":56},{"x":671,"y":68},{"x":688,"y":57},{"x":688,"y":70},{"x":702,"y":50},{"x":702,"y":64},{"x":717,"y":52},{"x":717,"y":66},{"x":735,"y":50},{"x":735,"y":65},{"x":755,"y":56},{"x":755,"y":70},{"x":775,"y":55},{"x":775,"y":68},{"x":795,"y":55},{"x":795,"y":66},{"x":795,"y":78},{"x":815,"y":56},{"x":815,"y":70},{"x":838,"y":52},{"x":838,"y":65},{"x":860,"y":57},{"x":860,"y":72},{"x":860,"y":84},{"x":880,"y":58},{"x":880,"y":72},{"x":903,"y":50},{"x":903,"y":62},{"x":903,"y":74},{"x":925,"y":50},{"x":925,"y":62},{"x":944,"y":52},{"x":944,"y":64},{"x":962,"y":50},{"x":962,"y":62},{"x":962,"y":75},{"x":978,"y":55},{"x":978,"y":68},{"x":978,"y":82},{"x":995,"y":55},{"x":995,"y":70},{"x":995,"y":85},{"x":1015,"y":55},{"x":1015,"y":70},{"x":1015,"y":85},{"x":1035,"y":54},{"x":1035,"y":66},{"x":1035,"y":80},{"x":1055,"y":52},{"x":1055,"y":66},{"x":1055,"y":80},{"x":1072,"y":58},{"x":1072,"y":72},{"x":1100,"y":50},{"x":1100,"y":62},{"x":1116,"y":50},{"x":1116,"y":60},{"x":1135,"y":50},{"x":1135,"y":60},{"x":1160,"y":56},{"x":1160,"y":66},{"x":1188,"y":60},{"x":1188,"y":75},{"x":1203,"y":60},{"x":1203,"y":72},{"x":1203,"y":90},{"x":1218,"y":55},{"x":1218,"y":68},{"x":1218,"y":80},{"x":1236,"y":55},{"x":1236,"y":68},{"x":1253,"y":57},{"x":1253,"y":72},{"x":1272,"y":55},{"x":1272,"y":66},{"x":1272,"y":78},{"x":1290,"y":52},{"x":1290,"y":62},{"x":1290,"y":75},{"x":1310,"y":48},{"x":1310,"y":58},{"x":1310,"y":70},{"x":1330,"y":48},{"x":1330,"y":60},{"x":1330,"y":72},{"x":1347,"y":54},{"x":1347,"y":64},{"x":1362,"y":50},{"x":1362,"y":60},{"x":1381,"y":50},{"x":1381,"y":60},{"x":1400,"y":52},{"x":1415,"y":52},{"x":1415,"y":66},{"x":1432,"y":52},{"x":1452,"y":50},{"x":1452,"y":60},{"x":1467,"y":52},{"x":1467,"y":65},{"x":1482,"y":52},{"x":1482,"y":65},{"x":1482,"y":78},{"x":1497,"y":55},{"x":1497,"y":68},{"x":1522,"y":58},{"x":1522,"y":68},{"x":1522,"y":78},{"x":1565,"y":47},{"x":1578,"y":56},{"x":1578,"y":44},{"x":1592,"y":42},{"x":1592,"y":55},{"x":1608,"y":45},{"x":1608,"y":58},{"x":1615,"y":42},
{"x":859,"y":135},{"x":842,"y":115},{"x":913,"y":115},{"x":895,"y":108},{"x":980,"y":114},{"x":967,"y":129},{"x":943,"y":101.6},{"x":920,"y":92},{"x":893,"y":89},{"x":842,"y":100},{"x":991,"y":93},{"x":1048,"y":99},{"x":1075,"y":94},{"x":1045,"y":92},{"x":1099,"y":105},{"x":1116,"y":95},{"x":1146,"y":87},{"x":1149,"y":72},{"x":1220,"y":93},{"x":1251,"y":90},{"x":1185,"y":89},{"x":1295,"y":96},{"x":1278,"y":81},{"x":1316,"y":83},{"x":1349,"y":71},{"x":1410,"y":72},{"x":1423,"y":92},{"x":1531,"y":132},{"x":1352,"y":168},{"x":1403,"y":145},{"x":1241,"y":168},{"x":1242,"y":164},{"x":1068,"y":157},{"x":1466,"y":160},{"x":1518,"y":157},{"x":1531,"y":157},{"x":1555,"y":160.6},{"x":1551,"y":174.6},{"x":1551,"y":170.4},{"x":1558,"y":186.5},{"x":1433,"y":195},{"x":1443,"y":185},{"x":1433,"y":175},{"x":1457,"y":176},{"x":1626,"y":90},{"x":1622,"y":85},{"x":1619,"y":74},{"x":1538,"y":81.7},{"x":1548,"y":70},{"x":1511,"y":88},{"x":1609,"y":114},{"x":1605,"y":103},{"x":1575,"y":115},
{"x":922,"y":168},{"x":903,"y":160},{"x":889,"y":149},{"x":875,"y":140},{"x":910,"y":138},{"x":933,"y":143},{"x":953,"y":153},{"x":987,"y":161.7},{"x":1018,"y":159.6},{"x":970,"y":140},{"x":1021,"y":149},{"x":1004,"y":140},{"x":970,"y":158},{"x":920,"y":150},{"x":935,"y":160},{"x":1051,"y":136},{"x":1045,"y":117},{"x":1051,"y":126},{"x":1075,"y":134},{"x":1092,"y":149},{"x":1126,"y":166},{"x":1139,"y":168},{"x":1153,"y":160},{"x":1180,"y":162},{"x":1210,"y":160},{"x":1234,"y":153},{"x":1251,"y":147},{"x":1105,"y":134},{"x":1133,"y":128},{"x":1160,"y":121.7},{"x":1166,"y":138},{"x":1200,"y":126},{"x":1210,"y":138},{"x":1146,"y":145},{"x":1187,"y":149},{"x":1110,"y":155},{"x":1125,"y":150},{"x":1165,"y":150},{"x":1130,"y":140},{"x":1225,"y":145},{"x":1192,"y":140},
{"x":895,"y":135},{"x":900,"y":148},{"x":912,"y":155},{"x":925,"y":145},{"x":945,"y":148},{"x":960,"y":148},{"x":980,"y":150},{"x":995,"y":150},{"x":1005,"y":150},{"x":1010,"y":160},{"x":985,"y":130},{"x":1030,"y":150},{"x":955,"y":135},{"x":940,"y":135},{"x":1062,"y":130},{"x":1075,"y":144},{"x":1085,"y":140},{"x":1095,"y":128},{"x":1100,"y":145},{"x":1115,"y":140},{"x":1118,"y":160},{"x":1118,"y":128},{"x":1140,"y":155},{"x":1140,"y":135},{"x":1155,"y":150},{"x":1155,"y":135},{"x":1172,"y":155},{"x":1175,"y":140},{"x":1195,"y":155},{"x":1198,"y":132},{"x":1215,"y":150},{"x":1220,"y":140},{"x":1240,"y":145},
{"x":1234,"y":125},{"x":1247,"y":115},{"x":1237,"y":107},{"x":1268,"y":132},{"x":1295,"y":146},{"x":1322,"y":147},{"x":1312,"y":140.6},{"x":1291,"y":123},{"x":1291,"y":108},{"x":1322,"y":105},{"x":1315,"y":136},{"x":1362,"y":135},{"x":1349,"y":100.6},{"x":1376,"y":107},{"x":1356,"y":115},{"x":1396,"y":136},{"x":1389,"y":120},{"x":1430,"y":111},{"x":1464,"y":132},{"x":1477,"y":132},{"x":1453,"y":100.6},{"x":1443,"y":126},{"x":1497,"y":117},{"x":1491,"y":103},{"x":1525,"y":122},{"x":1518,"y":107},{"x":1545,"y":111},{"x":1579,"y":115},{"x":1575,"y":105},{"x":1531,"y":96},{"x":1335,"y":120},{"x":1464,"y":114},{"x":1558,"y":105},{"x":1592,"y":109},{"x":1280,"y":125},{"x":1375,"y":125},{"x":1410,"y":130},{"x":1425,"y":125},{"x":1420,"y":135},{"x":1470,"y":120},{"x":1510,"y":115},{"x":1250,"y":130},{"x":1300,"y":133},{"x":1340,"y":128},{"x":1360,"y":122},
{"x":1255,"y":125},{"x":1258,"y":135},{"x":1275,"y":120},{"x":1285,"y":135},{"x":1305,"y":120},{"x":1280,"y":140},{"x":1305,"y":145},{"x":1330,"y":140},{"x":1345,"y":130},{"x":1350,"y":120},{"x":1370,"y":135},{"x":1370,"y":115},{"x":1385,"y":130},{"x":1380,"y":110},{"x":1400,"y":125},{"x":1405,"y":115},{"x":1415,"y":120},{"x":1440,"y":135},{"x":1440,"y":118},{"x":1455,"y":125},{"x":1455,"y":110},{"x":1470,"y":125},{"x":1475,"y":110},{"x":1485,"y":118},{"x":1500,"y":108},{"x":1510,"y":105},{"x":1505,"y":118},{"x":1530,"y":112},{"x":1535,"y":105},{"x":1550,"y":115},{"x":1565,"y":112},{"x":1585,"y":105},{"x":1600,"y":112},{"x":1600,"y":104}]
},
"vconcat":[
{"width":2277,"height":1259,"data":{"name":"b"},"title":{"text":"(b)"},"mark":{"type":"circle","size":1600,"color":"#4F81BD","opacity":1},
"encoding":{"x":{"field":"x","type":"quantitative","title":"series number of record","scale":{"domain":[0,1800],"nice":false},"axis":{"values":[0,200,400,600,800,1000,1200,1400,1600,1800],"format":"d","labelPadding":80,"titlePadding":58}},
"y":{"field":"y","type":"quantitative","title":"travel time (s)","scale":{"domain":[0,200],"nice":false},"axis":{"values":[0,20,40,60,80,100,120,140,160,180,200],"labelPadding":86,"titlePadding":32}}}},
{"width":2277,"height":1258,"data":{"name":"c"},"title":{"text":"(c)"},"mark":{"type":"circle","size":1600,"color":"#4F81BD","opacity":1},
"encoding":{"x":{"field":"x","type":"quantitative","title":"series number of record","scale":{"domain":[0,1800],"nice":false},"axis":{"values":[0,200,400,600,800,1000,1200,1400,1600,1800],"format":"d","labelPadding":80,"titlePadding":58}},
"y":{"field":"y","type":"quantitative","title":"travel time (s)","scale":{"domain":[0,350],"nice":false},"axis":{"values":[0,50,100,150,200,250,300,350],"labelPadding":86,"titlePadding":32}}}}
]}
